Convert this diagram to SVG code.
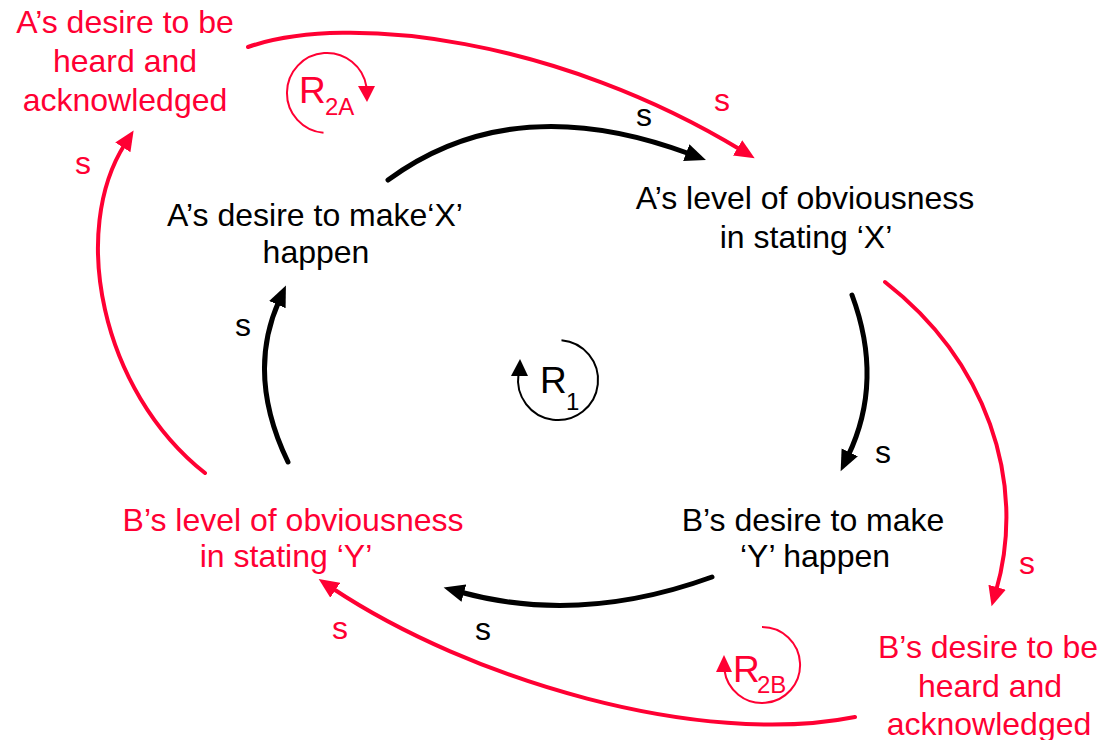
<svg xmlns="http://www.w3.org/2000/svg" width="1101" height="740" viewBox="0 0 1101 740">
<style>
text{font-family:"Liberation Sans",Arial,sans-serif;font-size:32px}
.k{fill:#000}
.r{fill:#FF0033}
.m{text-anchor:middle}
.cb{fill:none;stroke:#000;stroke-width:5;stroke-linecap:round}
.cr{fill:none;stroke:#FF0033;stroke-width:4;stroke-linecap:round}
.lb{fill:none;stroke:#000;stroke-width:2}
.lr{fill:none;stroke:#FF0033;stroke-width:2}
.big{font-size:37px}
.sub{font-size:24px}
</style>
<defs>
<marker id="ab" markerUnits="userSpaceOnUse" markerWidth="22" markerHeight="20" viewBox="0 0 22 20" refX="4" refY="10" orient="auto">
<path d="M0,1 L21,10 L0,19 z" fill="#000"/>
</marker>
<marker id="ar" markerUnits="userSpaceOnUse" markerWidth="22" markerHeight="20" viewBox="0 0 22 20" refX="4" refY="10" orient="auto">
<path d="M0,1 L20,10 L0,19 z" fill="#FF0033"/>
</marker>
</defs>

<g id="connectors">
<path class="cb" d="M388,180 Q513,88 690,154" marker-end="url(#ab)"/>
<path class="cb" d="M852,295 Q884,381 848,456" marker-end="url(#ab)"/>
<path class="cb" d="M712,577 Q580,625 460,592" marker-end="url(#ab)"/>
<path class="cb" d="M288,462 Q246,375 279,301" marker-end="url(#ab)"/>
<path class="cr" d="M248,47 C350,12 560,40 741,150" marker-end="url(#ar)"/>
<path class="cr" d="M885,282 C985,360 1028,480 996,591" marker-end="url(#ar)"/>
<path class="cr" d="M855,717 C700,748 470,680 332,588" marker-end="url(#ar)"/>
<path class="cr" d="M205,473 C100,390 70,230 125,144" marker-end="url(#ar)"/>
</g>

<g id="labels">
<text class="k m" x="644" y="126">s</text>
<text class="k m" x="883" y="463">s</text>
<text class="k m" x="483" y="640">s</text>
<text class="k m" x="243" y="336">s</text>
<text class="r m" x="722" y="111">s</text>
<text class="r m" x="83" y="174">s</text>
<text class="r m" x="1027" y="574">s</text>
<text class="r m" x="340" y="639">s</text>
</g>

<g id="node-a-heard">
<text class="r m" x="125" y="33">A’s desire to be</text>
<text class="r m" x="125" y="72">heard and</text>
<text class="r m" x="125" y="111">acknowledged</text>
</g>
<g id="node-a-desire">
<text class="k m" x="315" y="226">A’s desire to make‘X’</text>
<text class="k m" x="316" y="263">happen</text>
</g>
<g id="node-a-obvious">
<text class="k m" x="805" y="209">A’s level of obviousness</text>
<text class="k m" x="806" y="248">in stating ‘X’</text>
</g>
<g id="node-b-desire">
<text class="k m" x="813" y="531">B’s desire to make</text>
<text class="k m" x="815" y="567">‘Y’ happen</text>
</g>
<g id="node-b-obvious">
<text class="r m" x="293" y="531">B’s level of obviousness</text>
<text class="r m" x="286" y="567">in stating ‘Y’</text>
</g>
<g id="node-b-heard">
<text class="r m" x="988" y="658">B’s desire to be</text>
<text class="r m" x="990" y="697">heard and</text>
<text class="r m" x="989" y="735">acknowledged</text>
</g>

<g id="loop-r2a">
<path class="lr" d="M323.5,132.8 A40,40 0 1 1 366.5,87"/>
<path d="M358,86 L375,86 L367,102 z" fill="#FF0033"/>
<text class="r big" x="299" y="103">R</text>
<text class="r sub" x="325" y="115">2A</text>
</g>
<g id="loop-r1">
<path class="lb" d="M561.5,340.2 A40,40 0 1 1 518.5,374"/>
<path d="M511,376 L528,376 L520,359 z" fill="#000"/>
<text class="k big" x="540" y="393">R</text>
<text class="k sub" x="566" y="410">1</text>
</g>
<g id="loop-r2b">
<path class="lr" d="M762,627 A38,38 0 1 1 724.4,670"/>
<path d="M716,672 L732,672 L724,655 z" fill="#FF0033"/>
<text class="r big" x="733" y="682">R</text>
<text class="r sub" x="757" y="693">2B</text>
</g>
</svg>
